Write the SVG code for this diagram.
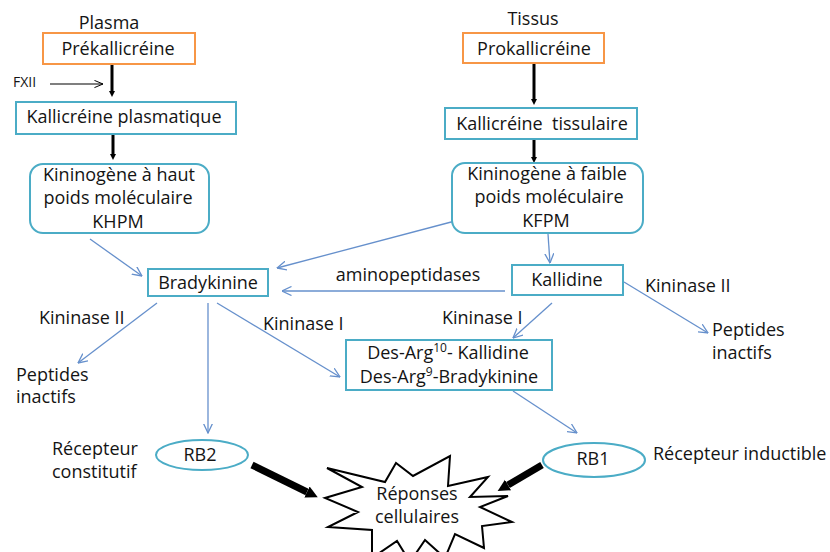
<svg xmlns="http://www.w3.org/2000/svg" width="830" height="552" viewBox="0 0 830 552">
<defs>
<style>
text{font-family:"Open Sans","Liberation Sans",sans-serif;font-size:18px;fill:#141414}
.m{text-anchor:middle}
.box{fill:#fff;stroke:#4BACC6;stroke-width:2}
.obox{fill:#fff;stroke:#F79646;stroke-width:2}
.thin{stroke:#6690CC;stroke-width:1.3;fill:none;marker-end:url(#open)}
.blk{stroke:#000;stroke-width:3;fill:none;marker-end:url(#small)}
.big{stroke:#000;stroke-width:7;fill:none;marker-end:url(#bighead)}
.sup{font-size:12px}
</style>
<marker id="open" viewBox="0 0 10 10" refX="9.5" refY="5" markerWidth="10" markerHeight="10" markerUnits="userSpaceOnUse" orient="auto">
<path d="M0,0.5 L9.5,5 L0,9.5" fill="none" stroke="#6690CC" stroke-width="1.3"/>
</marker>
<marker id="openblk" viewBox="0 0 10 10" refX="9.5" refY="5" markerWidth="10" markerHeight="9" markerUnits="userSpaceOnUse" orient="auto">
<path d="M0,1 L9.5,5 L0,9" fill="none" stroke="#000" stroke-width="1.1"/>
</marker>
<marker id="small" viewBox="0 0 10 10" refX="0" refY="5" markerWidth="6" markerHeight="7" markerUnits="userSpaceOnUse" orient="auto">
<path d="M0,0 L10,5 L0,10 Z" fill="#000"/>
</marker>
<marker id="bighead" viewBox="0 0 10 10" refX="0" refY="5" markerWidth="12" markerHeight="16" markerUnits="userSpaceOnUse" orient="auto">
<path d="M0,0 L10,5 L0,10 Z" fill="#000"/>
</marker>
</defs>
<rect width="830" height="552" fill="#fff"/>

<g id="connectors">
<line class="blk" x1="112" y1="64" x2="112" y2="91"/>
<line x1="50" y1="84" x2="103" y2="84" stroke="#000" stroke-width="1.1" marker-end="url(#openblk)"/>
<line class="blk" x1="113" y1="135" x2="113" y2="154"/>
<line class="blk" x1="534" y1="64" x2="534" y2="99"/>
<line class="blk" x1="534" y1="140" x2="534" y2="157"/>
<line class="thin" x1="90" y1="239" x2="142" y2="276"/>
<line class="thin" x1="455" y1="221" x2="277" y2="268"/>
<line class="thin" x1="548" y1="234" x2="550" y2="263"/>
<line class="thin" x1="505" y1="291" x2="282" y2="291"/>
<line class="thin" x1="624" y1="282" x2="708" y2="333"/>
<line class="thin" x1="552" y1="303" x2="513" y2="338"/>
<line class="thin" x1="157" y1="303" x2="78" y2="363"/>
<line class="thin" x1="208" y1="303" x2="208" y2="433"/>
<line class="thin" x1="217" y1="303" x2="340" y2="377"/>
<line class="thin" x1="513" y1="391" x2="577" y2="433"/>
<line class="big" x1="252" y1="465" x2="307" y2="492"/>
<line class="big" x1="542" y1="465" x2="508" y2="485"/>
</g>

<g id="label-plasma"><text class="m" x="109" y="29">Plasma</text></g>
<g id="prekallicreine"><rect class="obox" x="43" y="33" width="152" height="31"/><text class="m" x="118" y="55">Prékallicréine</text></g>
<g id="fxii"><text x="13" y="87" style="font-size:14px">FXII</text></g>
<g id="kallicreine-plasmatique"><rect class="box" x="16" y="102" width="220" height="32"/><text class="m" x="124" y="123">Kallicréine plasmatique</text></g>
<g id="khpm"><rect class="box" x="30" y="164" width="179" height="69" rx="13"/>
<text class="m" x="119" y="181">Kininogène à haut</text>
<text class="m" x="118" y="204">poids moléculaire</text>
<text class="m" x="118" y="228">KHPM</text></g>

<g id="label-tissus"><text class="m" x="533" y="25">Tissus</text></g>
<g id="prokallicreine"><rect class="obox" x="463" y="33" width="141" height="30"/><text class="m" x="534" y="55">Prokallicréine</text></g>
<g id="kallicreine-tissulaire"><rect class="box" x="445" y="108" width="192" height="31"/><text class="m" x="542" y="130" xml:space="preserve">Kallicréine  tissulaire</text></g>
<g id="kfpm"><rect class="box" x="452" y="163" width="191" height="70" rx="13"/>
<text class="m" x="547" y="180">Kininogène à faible</text>
<text class="m" x="549" y="203">poids moléculaire</text>
<text class="m" x="546" y="227">KFPM</text></g>

<g id="bradykinine"><rect class="box" x="148" y="269" width="120" height="27"/><text class="m" x="208" y="289">Bradykinine</text></g>
<g id="kallidine"><rect class="box" x="512" y="265" width="111" height="30"/><text class="m" x="567" y="286">Kallidine</text></g>
<g id="label-aminopeptidases"><text class="m" x="408" y="281">aminopeptidases</text></g>
<g id="label-kininase2-right"><text x="645" y="292">Kininase II</text></g>
<g id="peptides-right"><text x="712" y="336">Peptides</text><text x="712" y="359">inactifs</text></g>
<g id="label-kininase1-right"><text x="442" y="324">Kininase I</text></g>
<g id="label-kininase1-left"><text x="263" y="330">Kininase I</text></g>
<g id="label-kininase2-left"><text x="39" y="324">Kininase II</text></g>
<g id="peptides-left"><text x="16" y="381">Peptides</text><text x="16" y="403">inactifs</text></g>

<g id="des-arg"><rect class="box" x="346" y="340" width="206" height="50"/>
<text class="m" x="448" y="359">Des-Arg<tspan class="sup" dy="-7">10</tspan><tspan dy="7">- Kallidine</tspan></text>
<text class="m" x="449" y="383">Des-Arg<tspan class="sup" dy="-7">9</tspan><tspan dy="7">-Bradykinine</tspan></text></g>

<g id="rb2"><ellipse cx="202" cy="455" rx="46" ry="15" fill="#fff" stroke="#4BACC6" stroke-width="2"/><text class="m" x="200" y="461">RB2</text></g>
<g id="label-recepteur-constitutif"><text x="52" y="455">Récepteur</text><text x="52" y="478">constitutif</text></g>
<g id="rb1"><ellipse cx="594" cy="460" rx="51" ry="17" fill="#fff" stroke="#4BACC6" stroke-width="2"/><text class="m" x="593" y="465">RB1</text></g>
<g id="label-recepteur-inductible"><text x="653" y="460">Récepteur inductible</text></g>

<g id="reponses-cellulaires">
<polygon points="327,468 385,482 396,463 413,476 450,456 448,486 488,477 470,497 508,496 480,507 512,522 482,526 484,548 455,534 445,558 425,540 410,562 397,541 372,558 372,530 328,527 358,512 325,498 362,487" fill="#fff" stroke="#000" stroke-width="2" stroke-linejoin="miter"/>
<text class="m" x="417" y="500">Réponses</text>
<text class="m" x="417" y="523">cellulaires</text>
</g>
</svg>
